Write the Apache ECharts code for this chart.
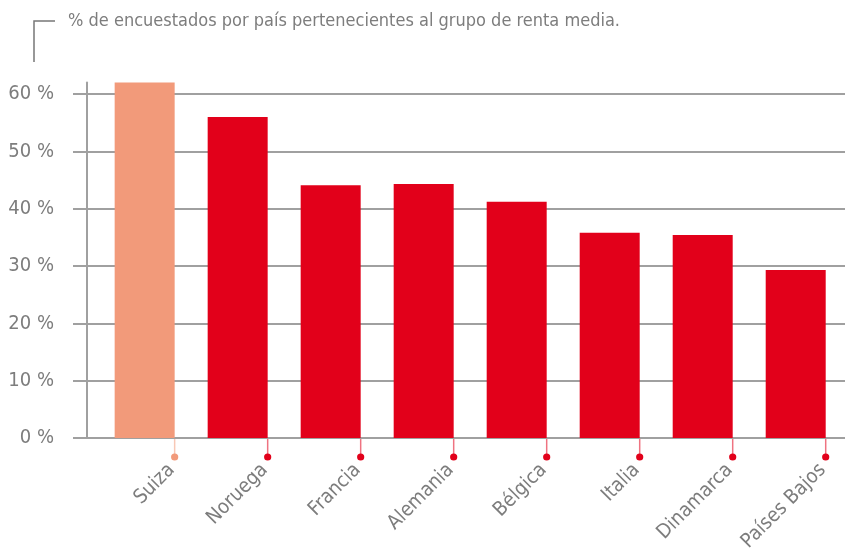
<!DOCTYPE html>
<html>
<head>
<meta charset="utf-8">
<script src="https://cdn.jsdelivr.net/npm/echarts@6/dist/echarts.min.js"></script>
<style>
  html, body { margin: 0; padding: 0; background: #fff; }
  #chart { width: 845px; height: 548px; }
</style>
</head>
<body>
<div id="chart"></div>
<script>
const countries = ['Suiza', 'Noruega', 'Francia', 'Alemania', 'Bélgica', 'Italia', 'Dinamarca', 'Países Bajos'];
const shares = [62, 56, 44.1, 44.3, 41.2, 35.8, 35.4, 29.3];
const highlighted = 'Suiza';
const yTicks = [0, 10, 20, 30, 40, 50, 60];
const title = '% de encuestados por país pertenecientes al grupo de renta media.';

const RED = '#e2001a';
const SALMON = '#f29a7a';
const GRAY = '#a0a0a0';
const TEXT = '#7d7d7d';
const FONT = '"DejaVu Sans Condensed", "Liberation Sans Narrow", sans-serif';
const BAR_W = 60;

const chart = echarts.init(document.getElementById('chart'));

const colorOf = name => (name === highlighted ? SALMON : RED);

const option = {
  animation: false,
  graphic: [
    {
      type: 'polyline',
      shape: { points: [[55, 21], [34, 21], [34, 62]] },
      style: { stroke: '#777', lineWidth: 1.5, fill: null }
    },
    {
      type: 'text',
      left: 68,
      top: 12,
      style: { text: title, fill: TEXT, font: '18px ' + FONT }
    }
  ],
  grid: { left: 87, right: 0, top: 82.5, bottom: 110 },
  xAxis: {
    type: 'value',
    min: -0.62,
    max: 7.53,
    show: false
  },
  yAxis: {
    type: 'value',
    min: 0,
    max: 62,
    axisLine: { show: true, onZero: false, lineStyle: { color: GRAY, width: 2 } },
    axisTick: { show: true, length: 14, customValues: yTicks, lineStyle: { color: GRAY, width: 2 } },
    axisLabel: {
      customValues: yTicks,
      margin: 33,
      color: TEXT,
      fontSize: 20,
      fontFamily: FONT,
      formatter: v => v + ' %'
    },
    splitLine: { show: true, lineStyle: { color: GRAY, width: 2 } }
  },
  series: [
    {
      type: 'bar',
      barWidth: BAR_W,
      clip: false,
      data: shares.map((v, i) => ({
        value: [i, v],
        itemStyle: { color: colorOf(countries[i]) }
      }))
    },
    {
      type: 'custom',
      clip: false,
      data: countries.map((c, i) => [i, 0]),
      renderItem: (params, api) => {
        const i = api.value(0);
        const name = countries[i];
        const p = api.coord([i, 0]);
        const x = p[0] + BAR_W / 2;
        const y0 = p[1];
        const color = colorOf(name);
        return {
          type: 'group',
          children: [
            {
              type: 'line',
              shape: { x1: x, y1: y0 + 1, x2: x, y2: y0 + 19 },
              style: { stroke: color, opacity: 0.55, lineWidth: 1.5 }
            },
            {
              type: 'circle',
              shape: { cx: x, cy: y0 + 19, r: 3.6 },
              style: { fill: color }
            },
            {
              type: 'text',
              x: x - 3,
              y: y0 + 29,
              rotation: Math.PI / 4,
              style: {
                text: name,
                fill: TEXT,
                font: '20px ' + FONT,
                align: 'right',
                verticalAlign: 'middle'
              }
            }
          ]
        };
      }
    }
  ]
};

chart.setOption(option);
window.addEventListener('resize', () => chart.resize());
</script>
</body>
</html>
